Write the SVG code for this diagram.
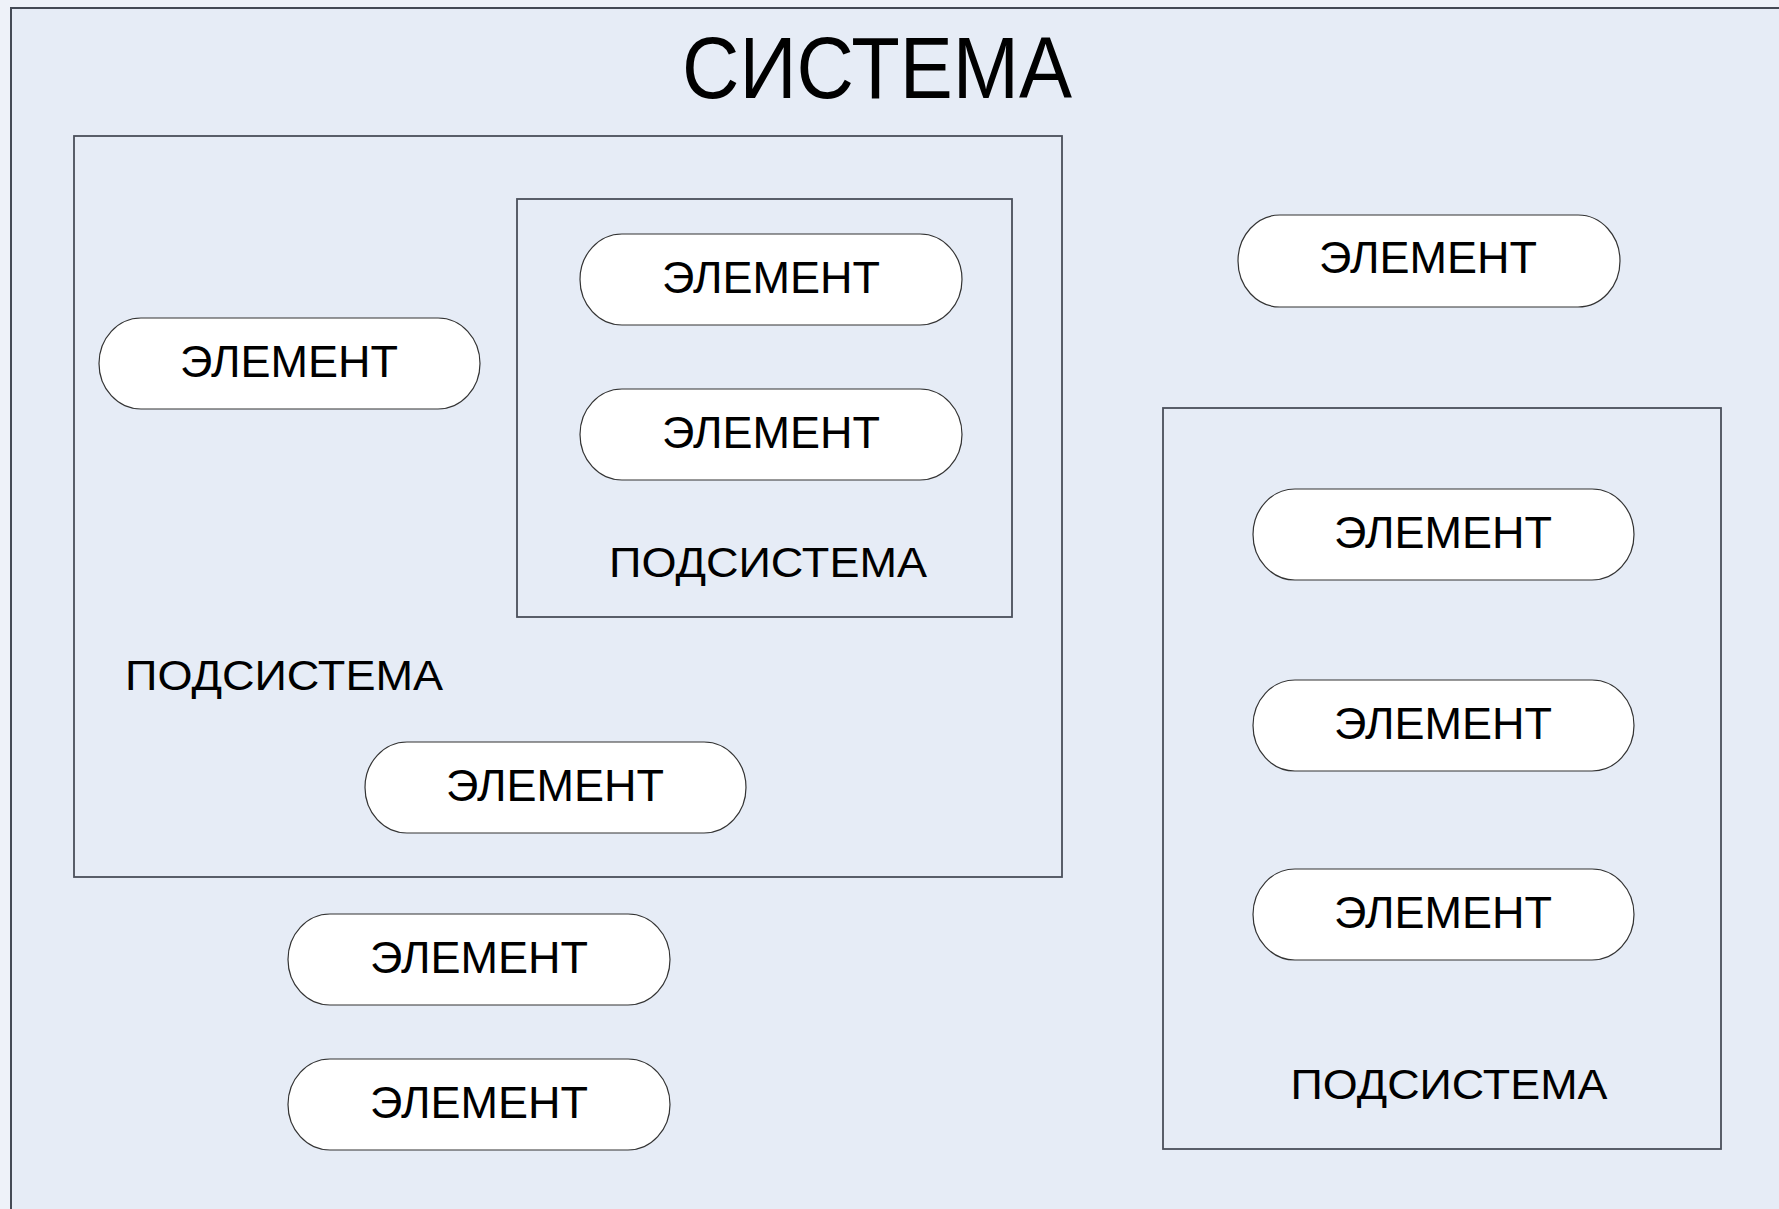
<svg xmlns="http://www.w3.org/2000/svg" width="1779" height="1209" viewBox="0 0 1779 1209">
<style>
  .frame { fill: #e6ecf6; stroke: #444a55; stroke-width: 2; }
  .sub { fill: none; stroke: #4a4f5a; stroke-width: 1.8; }
  .el { fill: #ffffff; stroke: #333333; stroke-width: 1.2; }
  .t { font-family: "Liberation Sans", Arial, sans-serif; fill: #000000; text-anchor: middle; }
  .et { font-size: 45px; }
  .st { font-size: 43px; }
  .title { font-size: 88px; }
</style>
<rect x="0" y="0" width="1779" height="1209" fill="#eef2f9"/>
<rect class="frame" x="11" y="8" width="1800" height="1250"/>
<text class="t title" x="877" y="98" textLength="390" lengthAdjust="spacingAndGlyphs">СИСТЕМА</text>

<g id="subsystem-left">
  <rect class="sub" x="74" y="136" width="988" height="741"/>
  <text class="t st" x="284" y="690" textLength="318" lengthAdjust="spacingAndGlyphs">ПОДСИСТЕМА</text>
</g>
<g id="subsystem-inner">
  <rect class="sub" x="517" y="199" width="495" height="418"/>
  <text class="t st" x="768" y="577" textLength="318" lengthAdjust="spacingAndGlyphs">ПОДСИСТЕМА</text>
</g>
<g id="subsystem-right">
  <rect class="sub" x="1163" y="408" width="558" height="741"/>
  <text class="t st" x="1449" y="1099" textLength="317" lengthAdjust="spacingAndGlyphs">ПОДСИСТЕМА</text>
</g>

<g id="element-left">
  <rect class="el" x="99" y="318" width="381" height="91" rx="42" ry="45.5"/>
  <text class="t et" x="289" y="377">ЭЛЕМЕНТ</text>
</g>
<g id="element-inner-1">
  <rect class="el" x="580" y="234" width="382" height="91" rx="42" ry="45.5"/>
  <text class="t et" x="771" y="293">ЭЛЕМЕНТ</text>
</g>
<g id="element-inner-2">
  <rect class="el" x="580" y="389" width="382" height="91" rx="42" ry="45.5"/>
  <text class="t et" x="771" y="448">ЭЛЕМЕНТ</text>
</g>
<g id="element-left-bottom">
  <rect class="el" x="365" y="742" width="381" height="91" rx="42" ry="45.5"/>
  <text class="t et" x="555" y="801">ЭЛЕМЕНТ</text>
</g>
<g id="element-below-1">
  <rect class="el" x="288" y="914" width="382" height="91" rx="42" ry="45.5"/>
  <text class="t et" x="479" y="973">ЭЛЕМЕНТ</text>
</g>
<g id="element-below-2">
  <rect class="el" x="288" y="1059" width="382" height="91" rx="42" ry="45.5"/>
  <text class="t et" x="479" y="1118">ЭЛЕМЕНТ</text>
</g>
<g id="element-top-right">
  <rect class="el" x="1238" y="215" width="382" height="92" rx="42" ry="46"/>
  <text class="t et" x="1428" y="273">ЭЛЕМЕНТ</text>
</g>
<g id="element-right-1">
  <rect class="el" x="1253" y="489" width="381" height="91" rx="42" ry="45.5"/>
  <text class="t et" x="1443" y="548">ЭЛЕМЕНТ</text>
</g>
<g id="element-right-2">
  <rect class="el" x="1253" y="680" width="381" height="91" rx="42" ry="45.5"/>
  <text class="t et" x="1443" y="739">ЭЛЕМЕНТ</text>
</g>
<g id="element-right-3">
  <rect class="el" x="1253" y="869" width="381" height="91" rx="42" ry="45.5"/>
  <text class="t et" x="1443" y="928">ЭЛЕМЕНТ</text>
</g>
<g id="connectors"></g>
</svg>
